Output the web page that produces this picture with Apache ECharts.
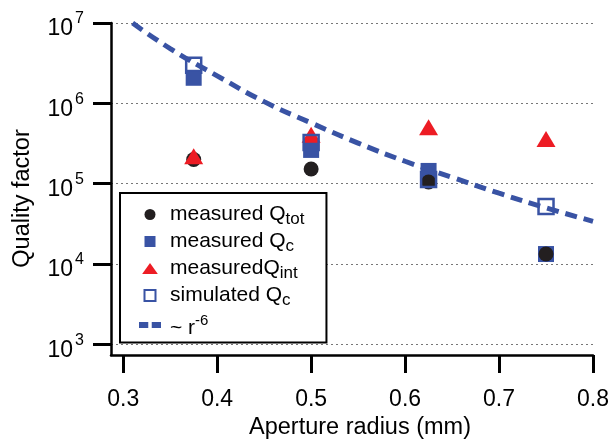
<!DOCTYPE html>
<html>
<head>
<meta charset="utf-8">
<script src="https://cdn.jsdelivr.net/npm/echarts@6/dist/echarts.min.js"></script>
<style>
  html, body { margin: 0; padding: 0; background: #fff; }
  #chart { width: 611px; height: 440px; }
</style>
</head>
<body>
<div id="chart"></div>
<script>
// aperture radius (mm) of the measured resonators
var radius = [0.375, 0.5, 0.625, 0.75];
// quality factors
var qTot = [2.0e5, 1.52e5, 1.05e5, 1.33e4];
var qC = [2.08e6, 2.63e5, 1.44e5, 1.33e4];
var qInt = [2.2e5, 4.05e5, 5.05e5, 3.6e5];
var qCSim = [2.98e6, 3.25e5, 1.13e5, 5.2e4];
// ~ r^-6 guide line
var fitR = [0.31, 0.35, 0.4, 0.45, 0.5, 0.55, 0.6, 0.65, 0.7, 0.75, 0.8];
var fitQ = [1.0e7, 4.8e6, 2.2e6, 1.05e6, 5.7e5, 3.2e5, 1.9e5, 1.2e5, 7.6e4, 5.0e4, 3.4e4];
// axis ticks
var xTicks = [0.3, 0.4, 0.5, 0.6, 0.7, 0.8];
var yTicks = [1e3, 1e4, 1e5, 1e6, 1e7];

var BLACK = '#231f20';
var BLUE = '#3953a4';
var RED = '#ed1c24';
var FONT = 'Liberation Sans, Arial, Helvetica, sans-serif';

// legend icons (built-in rect/triangle stretch to the item box)
var ICON_SQUARE = 'path://M0,0L10,0L10,10L0,10Z';
var ICON_TRIANGLE = 'path://M5,0L10,7L0,7Z';
var ICON_DASH = 'path://M0,0L8,0L8,5L0,5Z M11,0L19,0L19,5L11,5Z';

function pairs(xs, ys) {
    return xs.map(function (x, i) { return [x, ys[i]]; });
}

var chartDom = document.getElementById('chart');
var myChart = echarts.init(chartDom);
var option;

option = {
    animation: false,
    textStyle: { fontFamily: FONT, color: '#000' },
    grid: { left: 111, right: 18, top: 23, bottom: 85, outerBoundsMode: 'none' },
    xAxis: {
        type: 'value',
        min: 0.287,
        max: 0.8,
        name: 'Aperture radius (mm)',
        nameLocation: 'middle',
        nameGap: 61,
        nameTextStyle: { fontSize: 23.5, color: '#000', padding: [0, 0, 0, 16] },
        axisLine: { onZero: false, lineStyle: { color: '#000', width: 2.5 } },
        axisTick: { length: 18, lineStyle: { color: '#000', width: 3 }, customValues: xTicks },
        axisLabel: {
            customValues: xTicks,
            margin: 33,
            fontSize: 23,
            color: '#000',
            formatter: function (v) { return v.toFixed(1); }
        },
        splitLine: { show: false }
    },
    yAxis: {
        type: 'log',
        logBase: 10,
        min: 736,
        max: 1e7,
        name: 'Quality factor',
        nameLocation: 'middle',
        nameGap: 76,
        nameTextStyle: { fontSize: 23.5, color: '#000', padding: [0, 19, 0, 0] },
        axisLine: { lineStyle: { color: '#000', width: 2.5 } },
        axisTick: { length: 18, lineStyle: { color: '#000', width: 3 }, customValues: yTicks },
        axisLabel: {
            customValues: yTicks,
            margin: 27,
            color: '#000',
            formatter: function (v) {
                return '{b|10}{s|' + Math.round(Math.log10(v)) + '}';
            },
            rich: {
                b: { fontSize: 23, fontFamily: FONT, color: '#000', padding: [12, 0, 0, 0] },
                s: { fontSize: 16, fontFamily: FONT, color: '#000', padding: [0, 0, 8, 2] }
            }
        },
        splitLine: { show: true, lineStyle: { color: '#777', width: 1, type: [2, 3] } }
    },
    legend: {
        orient: 'vertical',
        left: 120,
        top: 193,
        padding: [8, 22, 0, 19],
        itemGap: 0,
        itemWidth: 22,
        itemHeight: 11,
        backgroundColor: '#fff',
        borderColor: '#000',
        borderWidth: 2,
        borderRadius: 0,
        data: [
            { name: 'tot' },
            { name: 'c', icon: ICON_SQUARE },
            { name: 'int', icon: ICON_TRIANGLE },
            { name: 'sim', icon: ICON_SQUARE },
            { name: 'fit', icon: ICON_DASH }
        ],
        textStyle: {
            padding: [0, 0, 0, 4],
            rich: {
                m: { fontSize: 21, lineHeight: 20, fontFamily: FONT, color: '#000' },
                sub: { fontSize: 17, lineHeight: 12, fontFamily: FONT, color: '#000', padding: [10, 0, 0, 0] },
                sup: { fontSize: 15, lineHeight: 12, fontFamily: FONT, color: '#000', padding: [0, 0, 14, 0] },
                g1: { fontSize: 8, lineHeight: 10 },
                g2: { fontSize: 4, lineHeight: 4 }
            }
        },
        formatter: function (name) {
            if (name === 'tot') return '{m|measured Q}{sub|tot}';
            if (name === 'c') return '{m|measured Q}{sub|c}';
            if (name === 'int') return '{m|measuredQ}{sub|int}';
            if (name === 'sim') return '{m|simulated Q}{sub|c}';
            return '{g1| }\n{m|~ r}{sup|-6}\n{g2| }';
        }
    },
    series: [
        {
            name: 'fit',
            type: 'line',
            data: pairs(fitR, fitQ),
            smooth: true,
            symbol: 'none',
            lineStyle: { color: BLUE, width: 5, type: [12, 7] },
            itemStyle: { color: BLUE }
        },
        {
            name: 'c',
            type: 'scatter',
            data: pairs(radius, qC),
            symbol: 'rect',
            symbolSize: 16,
            itemStyle: { color: BLUE, opacity: 1 }
        },
        {
            name: 'tot',
            type: 'scatter',
            data: pairs(radius, qTot),
            symbol: 'circle',
            symbolSize: 15,
            itemStyle: { color: BLACK, opacity: 1 }
        },
        {
            name: 'int',
            type: 'scatter',
            data: pairs(radius, qInt),
            symbol: 'triangle',
            symbolSize: [19, 16],
            itemStyle: { color: RED, opacity: 1 }
        },
        {
            name: 'sim',
            type: 'scatter',
            data: pairs(radius, qCSim),
            symbol: 'rect',
            symbolSize: 15,
            itemStyle: { color: 'rgba(255,255,255,0)', borderColor: BLUE, borderWidth: 2.5, opacity: 1 }
        }
    ]
};

option && myChart.setOption(option);
</script>
</body>
</html>
